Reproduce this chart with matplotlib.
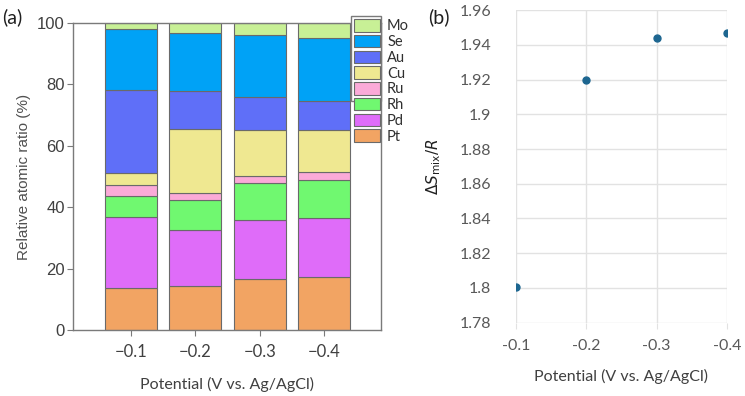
import matplotlib
matplotlib.use("Agg")
import matplotlib.pyplot as plt
from matplotlib.patches import Patch, Rectangle
import numpy as np

# panel (a): composition per potential (stacked from bottom)
potentials = ['\u22120.1', '\u22120.2', '\u22120.3', '\u22120.4']
elements = ['Pt', 'Pd', 'Rh', 'Ru', 'Cu', 'Au', 'Se', 'Mo']
Pt = [13.8, 14.2, 16.7, 17.4]
Pd = [23.1, 18.5, 19.0, 19.1]
Rh = [6.9, 9.6, 12.3, 12.5]
Ru = [3.3, 2.4, 2.2, 2.3]
Cu = [3.9, 20.7, 14.8, 13.9]
Au = [27.1, 12.6, 11.0, 9.3]
Se = [19.9, 18.6, 20.1, 20.6]
Mo = [2.0, 3.4, 3.9, 4.9]
colors = ['#f2a463', '#df6cf9', '#70f870', '#fbaad8', '#efe891',
          '#5f6ff8', '#00a2f6', '#c8f096']

# panel (b): mixing entropy
pot_b = [-0.1, -0.2, -0.3, -0.4]
smix = [1.8006, 1.9196, 1.9437, 1.9466]

fig = plt.figure(figsize=(7.45, 3.96), dpi=100)
txt = '#404040'
sans = ['Lato', 'DejaVu Sans']

# ---- (a) ----
ax = fig.add_axes([0.098, 0.1667, 0.413, 0.7753])
series = [Pt, Pd, Rh, Ru, Cu, Au, Se, Mo]
x = np.arange(len(potentials))
bottom = np.zeros(len(potentials))
for name, vals, c in zip(elements, series, colors):
    ax.bar(x, vals, bottom=bottom, width=0.81, color=c, edgecolor='#6a6a6a', linewidth=0.8)
    bottom += np.array(vals)
ax.set_xlim(-0.90, 3.88)
ax.set_ylim(0, 100)
ax.set_yticks([0, 20, 40, 60, 80, 100])
ax.set_xticks(x)
ax.set_xticklabels(potentials)
for s in ax.spines.values():
    s.set_color('#7a7a7a')
    s.set_linewidth(1.0)
ax.tick_params(axis='both', colors='#7a7a7a', labelcolor=txt, length=4)
ax.tick_params(axis='y', labelsize=12, pad=2)
ax.tick_params(axis='x', labelsize=12, pad=6)
for lab in ax.get_yticklabels():
    lab.set_fontfamily('Liberation Sans')
for lab in ax.get_xticklabels():
    lab.set_fontfamily(sans)
ax.set_ylabel('Relative atomic ratio (%)', fontsize=11, color='#505050',
              family='Liberation Sans', labelpad=4)
ax.set_xlabel('Potential (V vs. Ag/AgCl)', fontsize=11.5, color=txt, family=sans, labelpad=12)

handles = [Patch(facecolor=c, edgecolor='#6a6a6a', linewidth=0.8) for c in colors][::-1]
leg = ax.legend(handles, elements[::-1], loc='upper left', bbox_to_anchor=(0.907, 1.02),
                frameon=False, handlelength=1.75, handleheight=0.95, labelspacing=0.1,
                handletextpad=0.5, borderpad=0.15, borderaxespad=0,
                prop={'family': sans, 'size': 10.5})
for t in leg.get_texts():
    t.set_color('#303030')
ax.add_patch(Rectangle((0.902, 0.745), 0.098, 0.277, transform=ax.transAxes,
                       facecolor='white', edgecolor='#7a7a7a', linewidth=1.0,
                       clip_on=False, zorder=4))
leg.set_zorder(5)
fig.text(0.003, 0.957, '(a)', fontsize=14, color='#202020', family=sans, va='center')

# ---- (b) ----
bx = fig.add_axes([0.6926, 0.185, 0.2832, 0.7897])
bx.plot(pot_b, smix, 'o', color='#1d6690', markersize=5, zorder=3)
bx.set_xlim(-0.1, -0.4)
bx.set_ylim(1.78, 1.96)
bx.set_xticks(pot_b)
bx.set_xticklabels(['-0.1', '-0.2', '-0.3', '-0.4'])
bx.set_yticks([1.78, 1.8, 1.82, 1.84, 1.86, 1.88, 1.9, 1.92, 1.94, 1.96])
bx.set_yticklabels(['1.78', '1.8', '1.82', '1.84', '1.86', '1.88', '1.9', '1.92', '1.94', '1.96'])
bx.grid(True, color='#e2e2e2', linewidth=1.0)
bx.set_axisbelow(True)
for s in bx.spines.values():
    s.set_visible(False)
bx.tick_params(axis='y', length=0, pad=18, labelsize=11.5, labelcolor='#595959')
bx.tick_params(axis='x', length=4, color='#e2e2e2', pad=8, labelsize=11.5, labelcolor='#595959')
for lab in bx.get_xticklabels() + bx.get_yticklabels():
    lab.set_fontfamily(sans)
bx.set_ylabel(r'$\Delta S_{\mathrm{mix}}/R$', fontsize=11, color='#202020', labelpad=12)
bx.set_xlabel('Potential (V vs. Ag/AgCl)', fontsize=11.5, color=txt, family=sans, labelpad=11)
fig.text(0.575, 0.957, '(b)', fontsize=14, color='#202020', family=sans, va='center')

fig.savefig('out.png', dpi=100)
